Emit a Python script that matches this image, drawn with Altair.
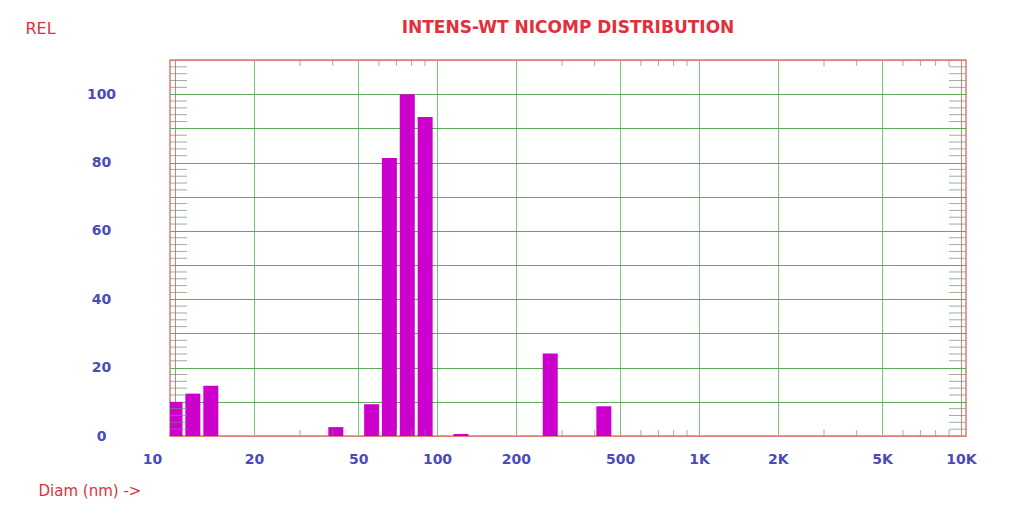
import altair as alt
import pandas as pd

# ---- data ----
diam_nm = [10.0, 11.7, 13.7, 41.1, 56.3, 65.8, 77.0, 90.1, 123.4, 270.5, 433.3]
rel_int = [10.0, 12.4, 14.7, 2.6, 9.3, 81.3, 100.0, 93.3, 0.6, 24.1, 8.7]

x_tick_values = [10, 20, 50, 100, 200, 500, 1000, 2000, 5000, 10000]
x_tick_labels = ["10", "20", "50", "100", "200", "500", "1K", "2K", "5K", "10K"]
y_grid_values = [0, 10, 20, 30, 40, 50, 60, 70, 80, 90, 100, 110]
y_label_values = [0, 20, 40, 60, 80, 100]

x_minor = [30, 40, 60, 70, 80, 90, 300, 400, 600, 700, 800, 900,
           3000, 4000, 6000, 7000, 8000, 9000]
y_minor = [2, 4, 6, 8, 12, 14, 16, 18, 22, 24, 26, 28, 32, 34, 36, 38,
           42, 44, 46, 48, 52, 54, 56, 58, 62, 64, 66, 68, 72, 74, 76, 78,
           82, 84, 86, 88, 92, 94, 96, 98, 102, 104, 106, 108]
x_edges = [10, 10000]
y_edges = [0, 110]

bars = pd.DataFrame({"d": diam_nm, "r": rel_int})
xm = pd.DataFrame([(v, e) for v in x_minor for e in y_edges], columns=["d", "r"])
ym = pd.DataFrame([(e, v) for v in y_minor for e in x_edges], columns=["d", "r"])

label_expr = ""
for v, l in zip(x_tick_values, x_tick_labels):
    label_expr += f"datum.value == {v} ? '{l}' : "
label_expr += "''"
y_label_expr = " || ".join(f"datum.value == {v}" for v in y_label_values)
y_label_expr = f"({y_label_expr}) ? datum.label : ''"

LABEL_COLOR = "#4B4BB8"
RED = "#E0303C"
XGRID = "#7CC47C"
YGRID = "#5DAA5D"
TICK = "#6F8F6F"
FRAME = "#DC7F78"

xscale = alt.Scale(type="log", domain=[10, 10000], nice=False)
yscale = alt.Scale(domain=[0, 110], nice=False)

x_edge_test = f"datum.value == {x_edges[0]} || datum.value == {x_edges[1]}"
y_edge_test = f"datum.value == {y_edges[0]} || datum.value == {y_edges[1]}"

xaxis = alt.Axis(values=x_tick_values, labelExpr=label_expr, grid=True,
                 gridColor={"condition": {"test": x_edge_test, "value": FRAME}, "value": XGRID},
                 gridWidth=1, ticks=False, tickSize=0,
                 domain=False, labelColor=LABEL_COLOR, labelFont="DejaVu Sans",
                 labelFontWeight="bold", labelFontSize=14, labelPadding=16,
                 labelOffset={"condition": {"test": "datum.value == 10", "value": -23}, "value": 0},
                 labelFlush=False, labelOverlap=False,
                 title="Diam (nm) ->", titleColor=RED, titleFont="DejaVu Sans",
                 titleFontWeight="normal", titleFontSize=15, titleAlign="left",
                 titleBaseline="middle", titleX=-132, titleY=54)
yaxis = alt.Axis(values=y_grid_values, labelExpr=y_label_expr, grid=True,
                 gridColor={"condition": {"test": y_edge_test, "value": FRAME}, "value": YGRID},
                 gridWidth=1, ticks=False, tickSize=0,
                 domain=False, labelColor=LABEL_COLOR, labelFont="DejaVu Sans",
                 labelFontWeight="bold", labelFontSize=14, labelPadding=69,
                 labelAlign="center", labelBaseline="middle",
                 labelFlush=False, labelOverlap=False,
                 title="REL", titleColor=RED, titleFont="DejaVu Sans",
                 titleFontWeight="normal", titleFontSize=16, titleAngle=0,
                 titleAlign="left", titleBaseline="middle",
                 titleX=-145, titleY=-32)

bar_layer = alt.Chart(bars).mark_bar(color="#CC00CC", size=15, clip=True).encode(
    x=alt.X("d:Q", scale=xscale, axis=xaxis),
    y=alt.Y("r:Q", scale=yscale, axis=yaxis),
)

xminor_layer = alt.Chart(xm).mark_tick(orient="vertical", size=12, thickness=1,
                                       color=TICK, clip=True).encode(
    x=alt.X("d:Q", scale=xscale, axis=xaxis),
    y=alt.Y("r:Q", scale=yscale, axis=yaxis),
)

yminor_layer = alt.Chart(ym).mark_tick(orient="horizontal", size=24, thickness=1,
                                       color=TICK, clip=True).encode(
    x=alt.X("d:Q", scale=xscale, axis=xaxis),
    y=alt.Y("r:Q", scale=yscale, axis=yaxis),
)

chart = alt.layer(bar_layer, xminor_layer, yminor_layer).properties(
    width=796, height=376,
    title=alt.TitleParams("INTENS-WT NICOMP DISTRIBUTION", color=RED,
                          font="DejaVu Sans", fontWeight="bold", fontSize=17,
                          anchor="middle", frame="group", offset=-17),
    autosize=alt.AutoSizeParams(type="none"),
    padding={"left": 162, "top": 52, "right": 50, "bottom": 70},
    background="white",
).configure_view(stroke=FRAME, strokeWidth=1.5)

chart.save("out.html", embed_options={"renderer": "svg", "actions": False})
